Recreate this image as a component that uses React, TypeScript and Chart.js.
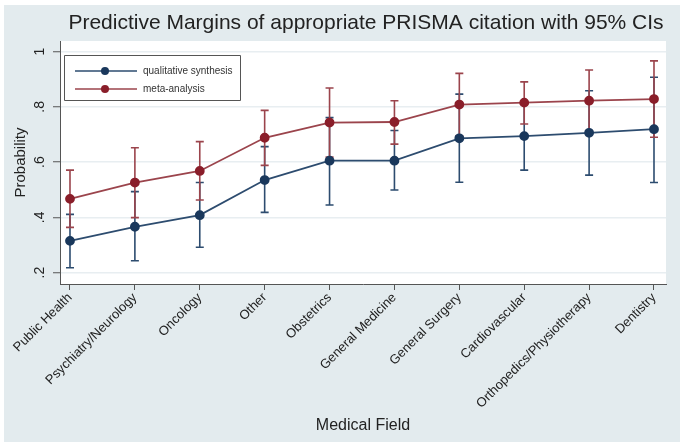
import React, { useEffect, useRef } from 'react';
import { Chart, registerables } from 'chart.js';

Chart.register(...registerables);

const categories = [
  'Public Health',
  'Psychiatry/Neurology',
  'Oncology',
  'Other',
  'Obstetrics',
  'General Medicine',
  'General Surgery',
  'Cardiovascular',
  'Orthopedics/Physiotherapy',
  'Dentistry',
];

const qualMargin = [0.315, 0.366, 0.408, 0.535, 0.605, 0.605, 0.686, 0.694, 0.706, 0.719];
const qualLower = [0.218, 0.243, 0.292, 0.418, 0.445, 0.499, 0.527, 0.571, 0.553, 0.526];
const qualUpper = [0.411, 0.493, 0.526, 0.656, 0.761, 0.714, 0.846, 0.817, 0.858, 0.907];

const metaMargin = [0.467, 0.526, 0.568, 0.688, 0.743, 0.745, 0.808, 0.815, 0.822, 0.828];
const metaLower = [0.364, 0.399, 0.463, 0.588, 0.618, 0.665, 0.695, 0.738, 0.711, 0.690];
const metaUpper = [0.571, 0.652, 0.674, 0.787, 0.868, 0.822, 0.921, 0.890, 0.933, 0.966];

const yTickValues = [0.2, 0.4, 0.6, 0.8, 1];
const yTickLabels = ['.2', '.4', '.6', '.8', '1'];

const seriesNames = ['qualitative synthesis', 'meta-analysis'];

const TITLE = 'Predictive Margins of appropriate PRISMA citation with 95% CIs';
const X_TITLE = 'Medical Field';
const Y_TITLE = 'Probability';

const BLUE_LINE = '#2d4c6f';
const BLUE_MARK = '#1a385c';
const RED_LINE = '#9b444c';
const RED_MARK = '#8a1e2a';
const FONT = '"Liberation Sans", Arial, sans-serif';

const bgPlugin = {
  id: 'stataBg',
  beforeDraw(chart: any) {
    const { ctx, chartArea: a, width, height } = chart;
    ctx.save();
    ctx.fillStyle = '#ffffff';
    ctx.fillRect(0, 0, width, height);
    ctx.fillStyle = '#e3ebee';
    ctx.fillRect(4, 5, width - 6, height - 10);
    ctx.fillStyle = '#ffffff';
    ctx.fillRect(a.left, a.top, a.right - a.left, a.bottom - a.top);
    ctx.restore();
  },
};

const ciPlugin = {
  id: 'ciBars',
  beforeDatasetsDraw(chart: any) {
    const { ctx } = chart;
    const xs = chart.scales.x;
    const ys = chart.scales.y;
    const sets = [
      { lo: qualLower, hi: qualUpper, color: BLUE_LINE },
      { lo: metaLower, hi: metaUpper, color: RED_LINE },
    ];
    ctx.save();
    ctx.lineWidth = 1.6;
    sets.forEach((s) => {
      ctx.strokeStyle = s.color;
      s.lo.forEach((lo, i) => {
        const x = xs.getPixelForValue(i);
        const yl = ys.getPixelForValue(lo);
        const yh = ys.getPixelForValue(s.hi[i]);
        ctx.beginPath();
        ctx.moveTo(x, yl);
        ctx.lineTo(x, yh);
        ctx.moveTo(x - 4, yl);
        ctx.lineTo(x + 4, yl);
        ctx.moveTo(x - 4, yh);
        ctx.lineTo(x + 4, yh);
        ctx.stroke();
      });
    });
    ctx.restore();
  },
};

const decorPlugin = {
  id: 'decor',
  afterDraw(chart: any) {
    const { ctx, chartArea: a } = chart;
    ctx.save();
    // Title
    ctx.fillStyle = '#222222';
    ctx.font = `21px ${FONT}`;
    ctx.textAlign = 'center';
    ctx.textBaseline = 'middle';
    ctx.fillText(TITLE, (a.left + a.right) / 2 + 3, 23);

    // Legend
    const bx = 64, by = 55, bw = 176, bh = 45;
    ctx.fillStyle = '#ffffff';
    ctx.strokeStyle = '#555555';
    ctx.lineWidth = 1;
    ctx.beginPath();
    ctx.rect(bx + 0.5, by + 0.5, bw, bh);
    ctx.fill();
    ctx.stroke();
    const rows = [
      { y: 71, line: BLUE_LINE, mark: BLUE_MARK, label: seriesNames[0] },
      { y: 89, line: RED_LINE, mark: RED_MARK, label: seriesNames[1] },
    ];
    rows.forEach((r) => {
      ctx.strokeStyle = r.line;
      ctx.lineWidth = 1.6;
      ctx.beginPath();
      ctx.moveTo(75, r.y);
      ctx.lineTo(137, r.y);
      ctx.stroke();
      ctx.fillStyle = r.mark;
      ctx.beginPath();
      ctx.arc(105, r.y, 4, 0, Math.PI * 2);
      ctx.fill();
      ctx.fillStyle = '#333333';
      ctx.font = `10px ${FONT}`;
      ctx.textAlign = 'left';
      ctx.textBaseline = 'middle';
      ctx.fillText(r.label, 143, r.y);
    });
    ctx.restore();
  },
};

export default function App() {
  const ref = useRef<HTMLCanvasElement | null>(null);

  useEffect(() => {
    if (!ref.current) return;
    const chart = new Chart(ref.current, {
      type: 'line',
      data: {
        datasets: [
          {
            label: seriesNames[0],
            data: qualMargin.map((v, i) => ({ x: i, y: v })),
            borderColor: BLUE_LINE,
            backgroundColor: BLUE_MARK,
            pointBackgroundColor: BLUE_MARK,
            pointBorderColor: BLUE_MARK,
            borderWidth: 1.8,
            pointRadius: 4,
            tension: 0,
          },
          {
            label: seriesNames[1],
            data: metaMargin.map((v, i) => ({ x: i, y: v })),
            borderColor: RED_LINE,
            backgroundColor: RED_MARK,
            pointBackgroundColor: RED_MARK,
            pointBorderColor: RED_MARK,
            borderWidth: 1.8,
            pointRadius: 4,
            tension: 0,
          },
        ],
      },
      options: {
        responsive: false,
        animation: false,
        layout: { padding: { top: 41, right: 16, bottom: 0, left: 0 } },
        plugins: {
          legend: { display: false },
          title: { display: false },
          tooltip: { enabled: false },
        },
        scales: {
          x: {
            type: 'linear',
            min: -0.154,
            max: 9.185,
            afterBuildTicks: (s: any) => {
              s.ticks = categories.map((_, i) => ({ value: i }));
            },
            afterFit: (s: any) => {
              s.height = 163;
            },
            ticks: {
              autoSkip: false,
              minRotation: 45,
              maxRotation: 45,
              padding: 0,
              color: '#222222',
              font: { family: FONT, size: 13 },
              callback: (v: any) => categories[v],
            },
            grid: {
              drawOnChartArea: false,
              drawTicks: true,
              tickLength: 6,
              tickColor: '#555555',
            },
            border: { display: true, color: '#555555', width: 1 },
            title: {
              display: true,
              text: X_TITLE,
              color: '#222222',
              font: { family: FONT, size: 16 },
              padding: { top: 0, bottom: 12 },
            },
          },
          y: {
            type: 'linear',
            min: 0.159,
            max: 1.038,
            afterBuildTicks: (s: any) => {
              s.ticks = yTickValues.map((v) => ({ value: v }));
            },
            afterFit: (s: any) => {
              s.width = 60;
            },
            ticks: {
              minRotation: 90,
              maxRotation: 90,
              crossAlign: 'center',
              padding: 7,
              color: '#222222',
              font: { family: FONT, size: 14 },
              callback: (v: any) => {
                const i = yTickValues.findIndex((t) => Math.abs(t - v) < 1e-6);
                return i >= 0 ? yTickLabels[i] : '';
              },
            },
            grid: {
              color: '#e8eef1',
              lineWidth: 1.5,
              drawTicks: true,
              tickLength: 7,
              tickColor: '#555555',
              tickWidth: 1,
            },
            border: { display: true, color: '#555555', width: 1 },
            title: {
              display: true,
              text: Y_TITLE,
              color: '#222222',
              font: { family: FONT, size: 15 },
              padding: { top: 12, bottom: 0 },
            },
          },
        },
      },
      plugins: [bgPlugin, ciPlugin, decorPlugin],
    } as any);
    return () => chart.destroy();
  }, []);

  return (
    <div style={{ position: 'fixed', left: 0, top: 0, width: 682, height: 447 }}>
      <canvas ref={ref} width={682} height={447} style={{ width: 682, height: 447 }} />
    </div>
  );
}
